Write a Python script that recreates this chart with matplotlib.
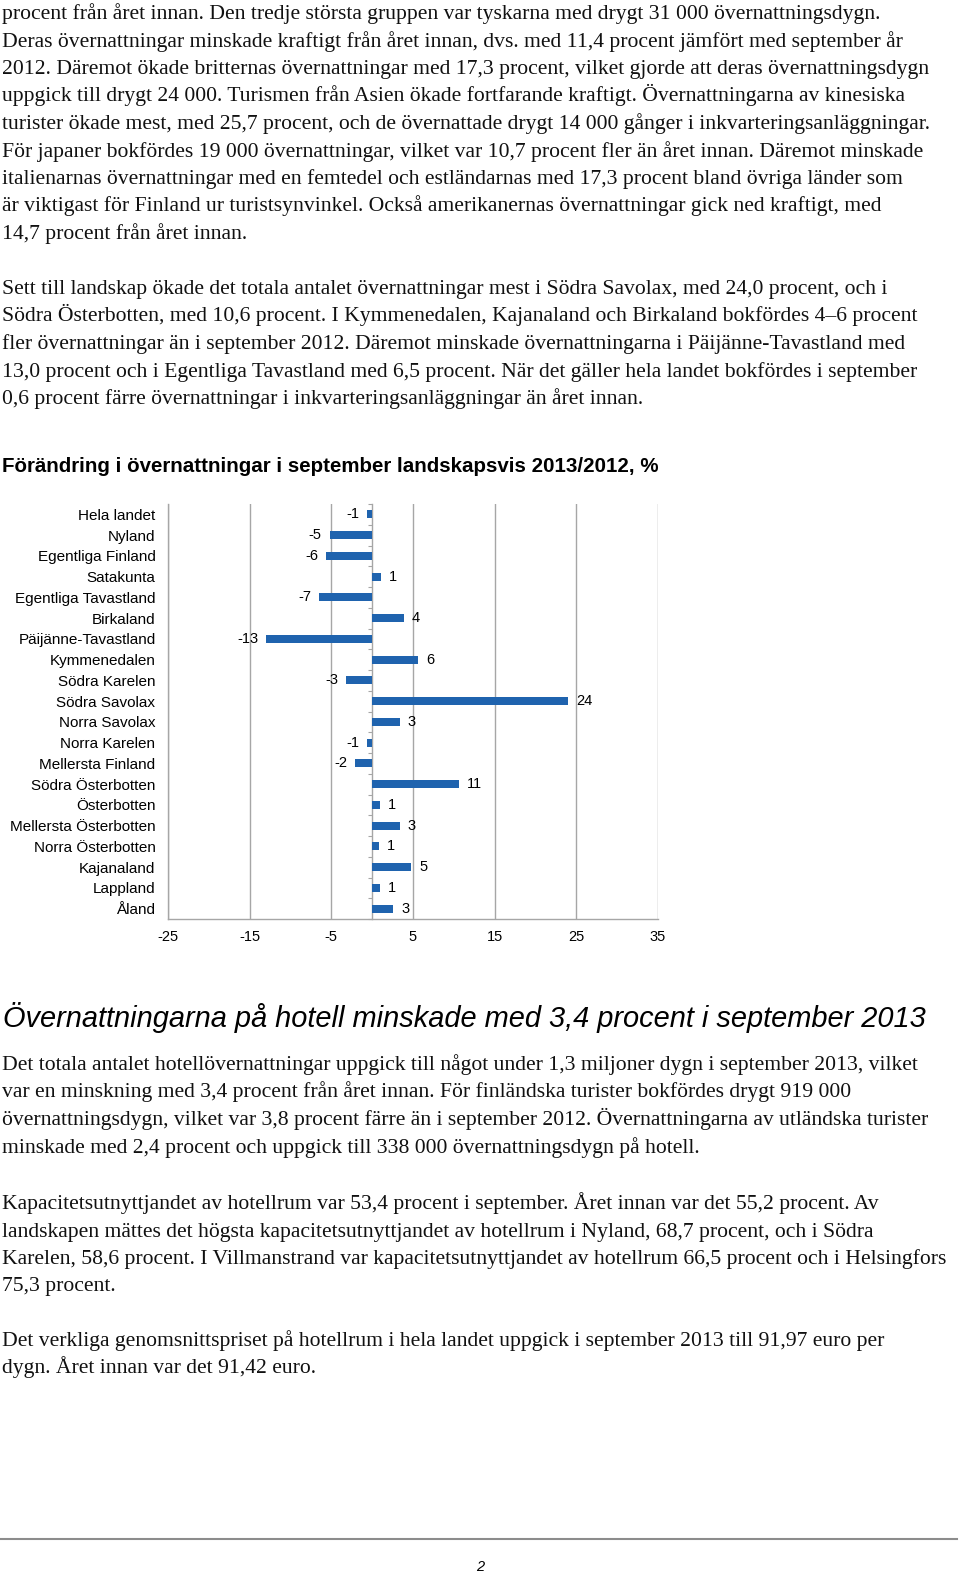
import matplotlib
matplotlib.use('Agg')
import matplotlib.pyplot as plt
import numpy as np

W, H = 960, 1572

# text of the page, line by line as in the layout
para1 = [
    "procent från året innan. Den tredje största gruppen var tyskarna med drygt 31 000 övernattningsdygn.",
    "Deras övernattningar minskade kraftigt från året innan, dvs. med 11,4 procent jämfört med september år",
    "2012. Däremot ökade britternas övernattningar med 17,3 procent, vilket gjorde att deras övernattningsdygn",
    "uppgick till drygt 24 000. Turismen från Asien ökade fortfarande kraftigt. Övernattningarna av kinesiska",
    "turister ökade mest, med 25,7 procent, och de övernattade drygt 14 000 gånger i inkvarteringsanläggningar.",
    "För japaner bokfördes 19 000 övernattningar, vilket var 10,7 procent fler än året innan. Däremot minskade",
    "italienarnas övernattningar med en femtedel och estländarnas med 17,3 procent bland övriga länder som",
    "är viktigast för Finland ur turistsynvinkel. Också amerikanernas övernattningar gick ned kraftigt, med",
    "14,7 procent från året innan.",
]
para2 = [
    "Sett till landskap ökade det totala antalet övernattningar mest i Södra Savolax, med 24,0 procent, och i",
    "Södra Österbotten, med 10,6 procent. I Kymmenedalen, Kajanaland och Birkaland bokfördes 4–6 procent",
    "fler övernattningar än i september 2012. Däremot minskade övernattningarna i Päijänne-Tavastland med",
    "13,0 procent och i Egentliga Tavastland med 6,5 procent. När det gäller hela landet bokfördes i september",
    "0,6 procent färre övernattningar i inkvarteringsanläggningar än året innan.",
]
para3 = [
    "Det totala antalet hotellövernattningar uppgick till något under 1,3 miljoner dygn i september 2013, vilket",
    "var en minskning med 3,4 procent från året innan. För finländska turister bokfördes drygt 919 000",
    "övernattningsdygn, vilket var 3,8 procent färre än i september 2012. Övernattningarna av utländska turister",
    "minskade med 2,4 procent och uppgick till 338 000 övernattningsdygn på hotell.",
]
para4 = [
    "Kapacitetsutnyttjandet av hotellrum var 53,4 procent i september. Året innan var det 55,2 procent. Av",
    "landskapen mättes det högsta kapacitetsutnyttjandet av hotellrum i Nyland, 68,7 procent, och i Södra",
    "Karelen, 58,6 procent. I Villmanstrand var kapacitetsutnyttjandet av hotellrum 66,5 procent och i Helsingfors",
    "75,3 procent.",
]
para5 = [
    "Det verkliga genomsnittspriset på hotellrum i hela landet uppgick i september 2013 till 91,97 euro per",
    "dygn. Året innan var det 91,42 euro.",
]

chart_title = "Förändring i övernattningar i september landskapsvis 2013/2012, %"
heading = "Övernattningarna på hotell minskade med 3,4 procent i september 2013"

# chart data: change in overnight stays, Sept 2013 vs 2012, %
regions = ["Hela landet", "Nyland", "Egentliga Finland", "Satakunta",
           "Egentliga Tavastland", "Birkaland", "Päijänne-Tavastland",
           "Kymmenedalen", "Södra Karelen", "Södra Savolax", "Norra Savolax",
           "Norra Karelen", "Mellersta Finland", "Södra Österbotten",
           "Österbotten", "Mellersta Österbotten", "Norra Österbotten",
           "Kajanaland", "Lappland", "Åland"]
change = [-0.6, -5.2, -5.6, 1.1, -6.5, 3.9, -13.0, 5.6, -3.2, 24.0, 3.4,
          -0.6, -2.1, 10.6, 0.9, 3.4, 0.8, 4.8, 0.9, 2.6]
xticks = [-25, -15, -5, 5, 15, 25, 35]

BAR = '#1f63ae'
GRID = '#a6a6a6'
SERIF = ['Liberation Serif', 'DejaVu Serif']
SANS = ['Liberation Sans', 'DejaVu Sans']


def fx(x):
    return x / W


def fy(y):
    return 1 - y / H


def excel_round(v):
    return int(np.sign(v) * np.floor(abs(v) + 0.5))


fig = plt.figure(figsize=(W / 100, H / 100), dpi=100)
fig.patch.set_facecolor('white')

body_size = 15.6
line_h = 27.5


def paragraph(lines, first_baseline):
    for i, s in enumerate(lines):
        fig.text(fx(2), fy(first_baseline + i * line_h), s, family=SERIF,
                 fontsize=body_size, ha='left', va='baseline', color='#111111')


paragraph(para1, 19)
paragraph(para2, 294)
paragraph(para3, 1070)
paragraph(para4, 1209)
paragraph(para5, 1346)

fig.text(fx(2), fy(472), chart_title, family=SANS, fontsize=14.8,
         fontweight='bold', ha='left', va='baseline', color='black')
fig.text(fx(3), fy(1027), heading, family=SANS, fontsize=20.9,
         style='italic', ha='left', va='baseline', color='black')

# chart
ax = fig.add_axes([fx(168), fy(919), fx(658) - fx(168), (919 - 504) / H])
y = np.arange(len(regions))
ax.barh(y, change, height=0.38, color=BAR, zorder=3)
ax.set_xlim(-25, 35)
ax.set_ylim(len(regions) - 0.5, -0.5)
ax.set_xticks(xticks)
ax.set_xticklabels([str(t) for t in xticks], family=SANS, fontsize=10.5)
ax.set_yticks(y)
ax.set_yticklabels(regions, family=SANS, fontsize=11)
ax.tick_params(axis='y', length=0, pad=9)
ax.tick_params(axis='x', length=0, pad=8)
ax.grid(axis='x', color=GRID, linewidth=1, zorder=0)
for side in ['top', 'right']:
    ax.spines[side].set_visible(False)
for side in ['left', 'bottom']:
    ax.spines[side].set_color(GRID)
    ax.spines[side].set_linewidth(1)

# zero axis with category tick marks
zero_pos = (0 - ax.get_xlim()[0]) / (ax.get_xlim()[1] - ax.get_xlim()[0])
sec = ax.secondary_yaxis(zero_pos)
sec.set_yticks(np.arange(-0.5, len(regions), 1))
sec.tick_params(length=3, color=GRID, labelleft=False)
sec.spines['left'].set_color(GRID)
sec.spines['left'].set_linewidth(1)

for yi, v in zip(y, change):
    lab = str(excel_round(v))
    if v >= 0:
        ax.annotate(lab, (v, yi), xytext=(8, 0), textcoords='offset pixels',
                    ha='left', va='center', family=SANS, fontsize=10.5, zorder=4)
    else:
        ax.annotate(lab, (v, yi), xytext=(-8, 0), textcoords='offset pixels',
                    ha='right', va='center', family=SANS, fontsize=10.5, zorder=4)

# page footer
fig.add_artist(plt.Line2D([fx(0), fx(957)], [fy(1539), fy(1539)],
                          color='#8c8c8c', linewidth=1.5))
fig.text(fx(480), fy(1567), "2", family=SANS, fontsize=10.5, style='italic',
         ha='center', va='center')

fig.savefig('out.png', dpi=100, facecolor='white')
